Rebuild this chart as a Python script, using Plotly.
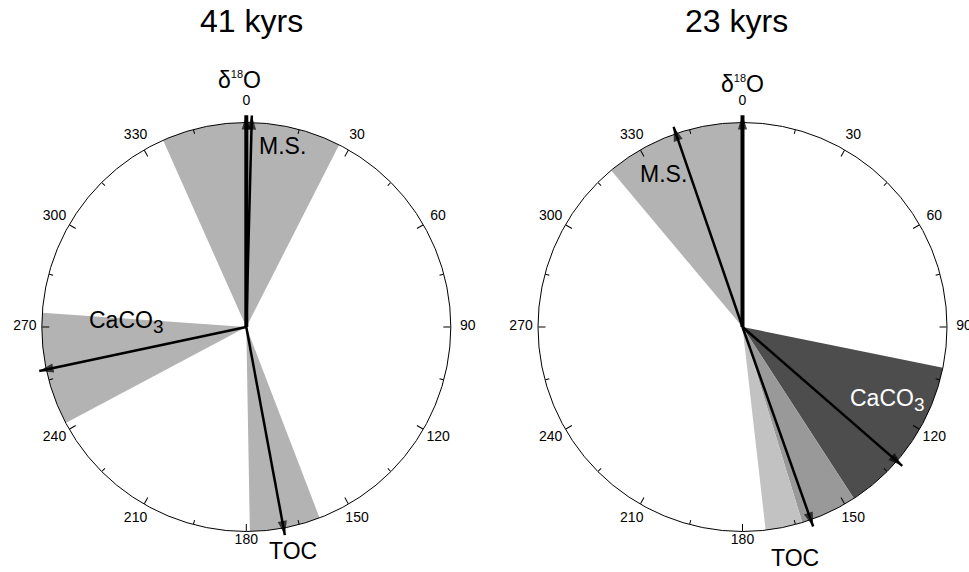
import math
import plotly.graph_objects as go

# ---------------- data ----------------
periods = ["41 kyrs", "23 kyrs"]
proxies = ["δ<sup><span style='font-size:11px;color:black'>18</span></sup>O", "M.S.",
           "CaCO<sub><span style='font-size:19px;color:inherit'>3</span></sub>", "TOC"]

# phase (degrees) of each proxy relative to δ18O
phase_41 = [0, 1.5, 258, 169.5]
phase_23 = [0, 341, 131, 160.5]

# shaded uncertainty sectors: start, end (degrees)
sector_lo_41 = [336, 242, 159]
sector_hi_41 = [27, 274, 179]
sector_col_41 = ["#b3b3b3", "#b3b3b3", "#b3b3b3"]

sector_lo_23 = [320, 101.5, 147, 163]
sector_hi_23 = [360, 147, 163, 173.5]
sector_col_23 = ["#b3b3b3", "#4d4d4d", "#999999", "#c2c2c2"]

major_ticks = list(range(0, 360, 30))
minor_ticks = list(range(15, 360, 30))
tick_labels = [str(v) for v in major_ticks]

# ---------------- layout constants ----------------
W, H = 969, 572
R = 204.5                      # circle radius in px
CENTERS = [(246.3, 327.0), (742.5, 327.0)]   # px from top-left
RMAX = 1.107                   # outer range of the overlay (arrows / tick labels)
ARROW_R = 1.035
TICKLAB_R = {0: 1.103, 180: 1.045}   # others use default
TICKLAB_R_DEFAULT = 1.083
FONT = "Liberation Sans, Arial, sans-serif"

# proxy label placement (r, theta) per panel
lab_r = [[1.21, 0.90, 0.59, 1.12], [1.186, 0.84, 0.79, 1.16]]
lab_t = [[-1.6, 11.2, 272.4, 168.3], [0, 332.6, 116.8, 167.1]]
lab_col = [["black"] * 4, ["black", "black", "white", "black"]]


def dom(cx, cy, rad):
    return dict(x=[max(0.0, (cx - rad) / W), min(1.0, (cx + rad) / W)],
                y=[max(0.0, (H - cy - rad) / H), min(1.0, (H - cy + rad) / H)])


def to_paper(cx, cy, r, th):
    t = math.radians(th)
    return (cx + r * R * math.sin(t)) / W, (H - (cy - r * R * math.cos(t))) / H


fig = go.Figure()
panels = [
    (sector_lo_41, sector_hi_41, sector_col_41, phase_41),
    (sector_lo_23, sector_hi_23, sector_col_23, phase_23),
]
annotations = []
layout_polars = {}

for k, (lo, hi, cols, phases) in enumerate(panels):
    base = 3 * k + 1
    sA = "polar" if base == 1 else f"polar{base}"
    sB = f"polar{base + 1}"
    sC = f"polar{base + 2}"
    cx, cy = CENTERS[k]

    # sectors
    centers, widths = [], []
    for a, b in zip(lo, hi):
        bb = b if b >= a else b + 360
        centers.append(((a + bb) / 2) % 360)
        widths.append(bb - a)
    fig.add_trace(go.Barpolar(
        r=[1] * len(lo), theta=centers, width=widths,
        marker=dict(color=cols, line=dict(width=0)),
        subplot=sA, hoverinfo="skip", showlegend=False))

    # invisible helper so the minor-tick polar is drawn
    fig.add_trace(go.Scatterpolar(r=[0], theta=[0], mode="markers",
                                  marker=dict(size=0, opacity=0),
                                  subplot=sB, hoverinfo="skip", showlegend=False))

    # arrows
    for i, ph in enumerate(phases):
        fig.add_trace(go.Scatterpolar(
            r=[0, ARROW_R], theta=[ph, ph], mode="lines+markers",
            line=dict(color="black", width=4 if i == 0 else 2.5),
            marker=dict(symbol="arrow", size=[0, 15], color="black",
                        angle=[0, ph], angleref="up", line=dict(width=0)),
            cliponaxis=False, subplot=sC, hoverinfo="skip", showlegend=False))

    # angular tick labels
    fig.add_trace(go.Scatterpolar(
        r=[TICKLAB_R.get(v, TICKLAB_R_DEFAULT) for v in major_ticks],
        theta=major_ticks, mode="text",
        text=tick_labels, textposition="middle center",
        textfont=dict(family=FONT, size=14, color="black"),
        cliponaxis=False, subplot=sC, hoverinfo="skip", showlegend=False))

    # proxy labels
    for name, r, th, col in zip(proxies, lab_r[k], lab_t[k], lab_col[k]):
        px_, py_ = to_paper(cx, cy, r, th)
        annotations.append(dict(text=name.replace("inherit", col), x=px_, y=py_,
                                xref="paper", yref="paper",
                                xanchor="center", yanchor="middle", showarrow=False,
                                font=dict(family=FONT, size=23, color=col)))

    # title
    tx = [251.7, 736.5][k]
    annotations.append(dict(text=periods[k], x=tx / W, y=(H - 21) / H,
                            xref="paper", yref="paper", xanchor="center",
                            yanchor="middle", showarrow=False,
                            font=dict(family=FONT, size=32, color="black")))

    hidden_rad = dict(visible=False, range=[0, 1])
    layout_polars[sA] = dict(
        domain=dom(cx, cy, R), bgcolor="white", bargap=0,
        radialaxis=hidden_rad,
        angularaxis=dict(rotation=90, direction="clockwise", tickmode="array",
                         tickvals=major_ticks, ticks="inside", ticklen=7,
                         tickcolor="black", tickwidth=1, showticklabels=False,
                         showgrid=False, showline=True, linecolor="black",
                         linewidth=1))
    layout_polars[sB] = dict(
        domain=dom(cx, cy, R), bgcolor="rgba(0,0,0,0)",
        radialaxis=hidden_rad,
        angularaxis=dict(rotation=90, direction="clockwise", tickmode="array",
                         tickvals=minor_ticks, ticks="inside", ticklen=4,
                         tickcolor="black", tickwidth=1, showticklabels=False,
                         showgrid=False, showline=False))
    layout_polars[sC] = dict(
        domain=dom(cx, cy, R * RMAX), bgcolor="rgba(0,0,0,0)",
        radialaxis=dict(visible=False, range=[0, RMAX]),
        angularaxis=dict(rotation=90, direction="clockwise", visible=False,
                         showgrid=False, showline=False, ticks=""))

fig.update_layout(
    width=W, height=H,
    margin=dict(l=0, r=0, t=0, b=0),
    paper_bgcolor="white",
    annotations=annotations,
    **layout_polars,
)

fig.write_html("out.html", config={"displayModeBar": False},
               post_script="document.body.style.margin='0';")
